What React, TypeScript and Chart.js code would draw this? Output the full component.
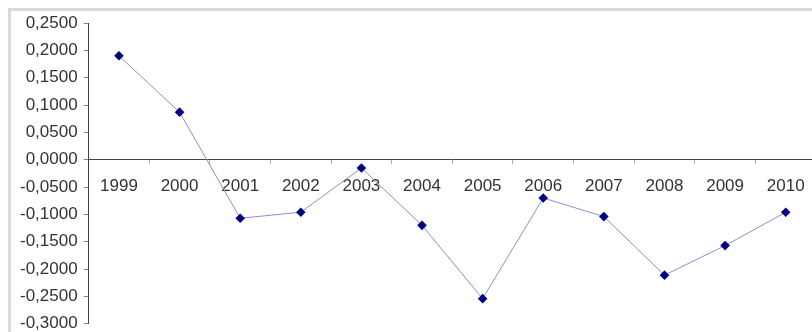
import React, { useEffect, useRef } from "react";
import { Chart, registerables } from "chart.js";

Chart.register(...registerables);

// Yearly values, 1999–2010
const years: string[] = ["1999", "2000", "2001", "2002", "2003", "2004", "2005", "2006", "2007", "2008", "2009", "2010"];
const values: number[] = [0.19, 0.087, -0.107, -0.096, -0.015, -0.12, -0.254, -0.07, -0.104, -0.211, -0.157, -0.096];

// Value axis range and step
const yMin = -0.3;
const yMax = 0.25;
const yStep = 0.05;

const FONT = '"Liberation Sans", Arial, sans-serif';

function formatTick(v: number): string {
  const n = Math.abs(v) < 1e-9 ? 0 : v;
  return n.toFixed(4).replace(".", ",");
}

export default function App() {
  const canvasRef = useRef<HTMLCanvasElement | null>(null);

  useEffect(() => {
    const canvas = canvasRef.current;
    if (!canvas) return;
    const chart = new Chart(canvas, {
      type: "line",
      data: {
        labels: years,
        datasets: [
          {
            data: values,
            borderColor: "#8e8ec4",
            borderWidth: 1,
            pointStyle: "rectRot",
            pointRadius: 4.8,
            pointBackgroundColor: "#000080",
            pointBorderColor: "#000080",
            pointBorderWidth: 0,
            tension: 0,
          },
        ],
      },
      options: {
        responsive: false,
        animation: false,
        devicePixelRatio: 1,
        layout: { padding: { left: 14, top: 23, right: 14, bottom: 14 } },
        plugins: {
          legend: { display: false },
          tooltip: { enabled: false },
        },
        scales: {
          x: {
            type: "category",
            position: { y: 0 } as any,
            offset: true,
            grid: {
              offset: true,
              drawOnChartArea: false,
              drawTicks: true,
              tickLength: 4,
              tickColor: "#b0b0b0",
            },
            border: { display: true, color: "#444444", width: 1 },
            ticks: {
              color: "#333333",
              font: { family: FONT, size: 17 },
              padding: 12,
              maxRotation: 0,
              autoSkip: false,
            },
          },
          y: {
            min: yMin,
            max: yMax,
            grid: {
              drawOnChartArea: false,
              drawTicks: true,
              tickLength: 5,
              tickColor: "#888888",
            },
            border: { display: true, color: "#444444", width: 1 },
            ticks: {
              stepSize: yStep,
              color: "#333333",
              font: { family: FONT, size: 17 },
              padding: 6,
              callback: (v) => formatTick(Number(v)),
            },
          },
        },
      },
    });
    return () => chart.destroy();
  }, []);

  return (
    <div
      style={{
        position: "fixed",
        left: 0,
        top: 0,
        width: 812,
        height: 332,
        overflow: "hidden",
        background: "#ffffff",
      }}
    >
      <div
        style={{
          position: "absolute",
          left: 8,
          top: 8,
          width: 900,
          height: 400,
          borderTop: "3px solid #dadada",
          borderLeft: "3px solid #dadada",
          boxSizing: "border-box",
        }}
      />
      <canvas
        ref={canvasRef}
        width={830}
        height={340}
        style={{ position: "absolute", left: 0, top: 0, width: 830, height: 340 }}
      />
    </div>
  );
}
